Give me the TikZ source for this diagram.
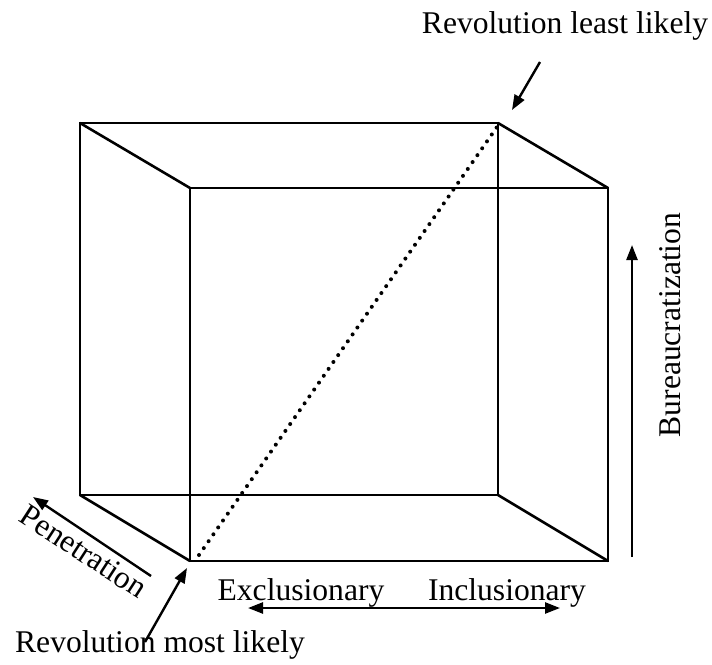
\documentclass[tikz,border=0pt]{standalone}
\usepackage{fontspec}
\setmainfont{Liberation Serif}
\usetikzlibrary{arrows.meta, calc}

\begin{document}
\begin{tikzpicture}[x=0.5pt, y=-0.5pt,
    every node/.style={font=\fontsize{15.8}{19}\selectfont, inner sep=0pt},
    edge/.style={line width=1.3pt},
    tip/.style={Triangle[length=7.5pt, width=5.5pt]},
    axis/.style={line width=1.2pt, -{Triangle[length=7.5pt, width=5.5pt]}},
    diag/.style={line width=2pt, line cap=round, dash pattern=on 0pt off 4.2pt}]
    \useasboundingbox (0,0) rectangle (712,664);

    % Cube corners: back face and front face
    \coordinate (bTL) at (80,123);  \coordinate (bTR) at (498,123);
    \coordinate (bBL) at (80,495);  \coordinate (bBR) at (498,495);
    \coordinate (fTL) at (190,188); \coordinate (fTR) at (608,188);
    \coordinate (fBL) at (190,561); \coordinate (fBR) at (608,561);

    % Faces and depth edges
    \draw[edge] (bTL) -- (bTR) -- (bBR) -- (bBL) -- cycle;
    \draw[edge] (fTL) -- (fTR) -- (fBR) -- (fBL) -- cycle;
    \foreach \c in {TL, TR, BL, BR} {
      \draw[edge] (b\c) -- (f\c);
    }

    % Diagonal
    \draw[diag] ($(fBL)+(9,-6)$) -- ($(bTR)+(-1,4)$);

    % Labels
    \node[anchor=base] (least) at (565,33) {Revolution least likely};
    \node[anchor=base] (most) at (160,652) {Revolution most likely};
    \node[anchor=base] (excl) at (301,600) {Exclusionary};
    \node[anchor=base] (incl) at (507,600) {Inclusionary};
    \node[anchor=base, rotate=90] (bureau) at (680,325) {Bureaucratization};
    \node[anchor=base, rotate=-33] (pen) at (78,560) {Penetration};

    % Arrows
    \coordinate (leastS) at (540,62);  \coordinate (leastE) at (512,110);
    \coordinate (mostS) at (145,642);  \coordinate (mostE) at (187,568);
    \coordinate (penS) at (151,576);   \coordinate (penE) at (33,497);
    \coordinate (burS) at (632,557);   \coordinate (burE) at (632,245);
    \coordinate (incL) at (248,608);   \coordinate (incR) at (560,608);
    \draw[axis] (leastS) -- (leastE);
    \draw[axis] (mostS) -- (mostE);
    \draw[axis] (penS) -- (penE);
    \draw[axis] (burS) -- (burE);
    \draw[axis, {Triangle[length=7.5pt, width=5.5pt]}-{Triangle[length=7.5pt, width=5.5pt]}] (incL) -- (incR);
\end{tikzpicture}
\end{document}
